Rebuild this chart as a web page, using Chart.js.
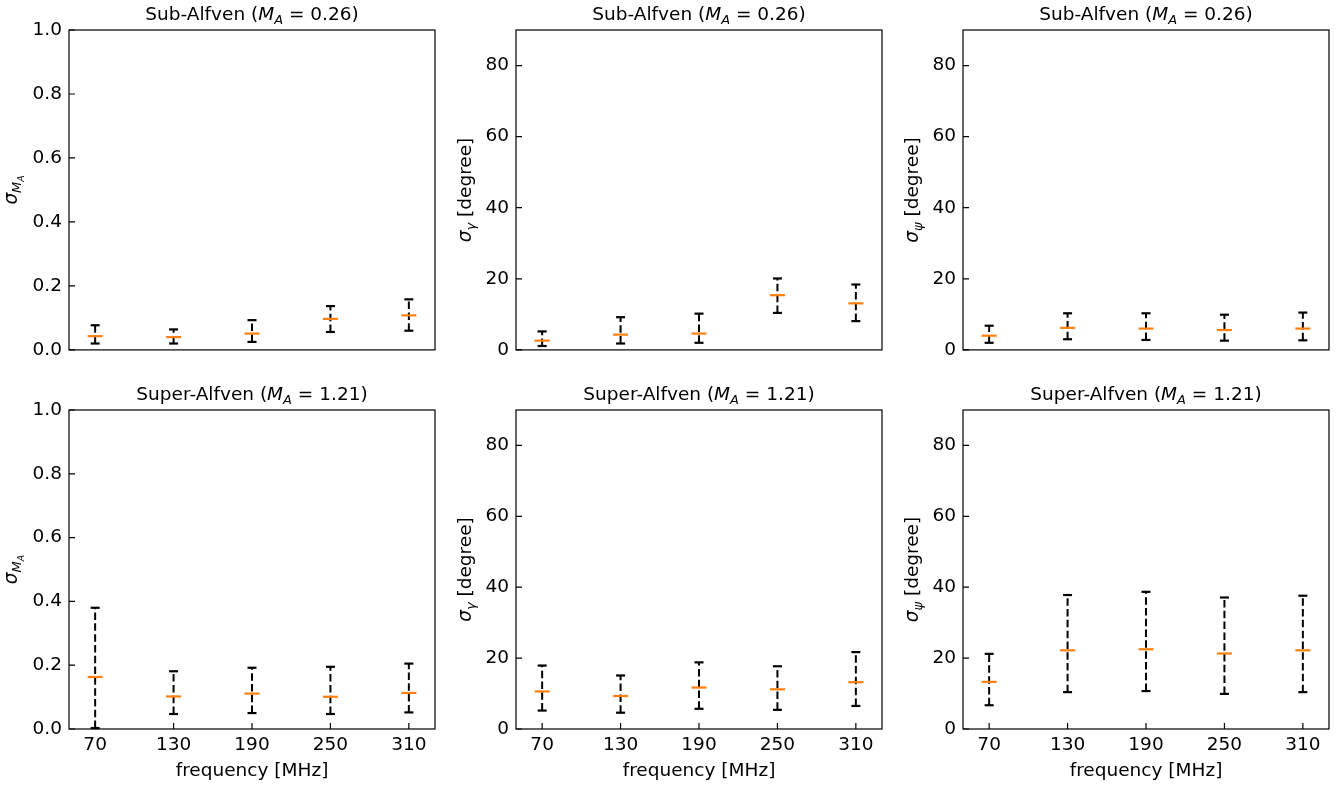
<!DOCTYPE html>
<html>
<head>
<meta charset="utf-8">
<script src="https://cdn.jsdelivr.net/npm/chart.js@4/dist/chart.umd.min.js"></script>
<style>
  body { margin: 0; background: #fff; }
  #fig { position: relative; width: 1343px; height: 789px; overflow: hidden; }
  #fig canvas { position: absolute; }
</style>
</head>
<body>
<div id="fig"></div>
<script>
const freqs = [70, 130, 190, 250, 310];
const maTicks = [0, 0.2, 0.4, 0.6, 0.8, 1.0];
const degTicks = [0, 20, 40, 60, 80];

// sub-Alfven
const maSubLow = [0.020, 0.020, 0.025, 0.056, 0.060];
const maSubMed = [0.043, 0.040, 0.051, 0.097, 0.108];
const maSubHigh = [0.077, 0.064, 0.093, 0.137, 0.158];
const gammaSubLow = [1.1, 1.8, 2.0, 10.4, 8.1];
const gammaSubMed = [2.6, 4.3, 4.6, 15.4, 13.1];
const gammaSubHigh = [5.2, 9.2, 10.2, 20.1, 18.4];
const psiSubLow = [2.0, 3.0, 2.8, 2.6, 2.7];
const psiSubMed = [4.0, 6.2, 6.0, 5.6, 6.0];
const psiSubHigh = [6.8, 10.3, 10.3, 9.9, 10.5];

// super-Alfven
const maSupLow = [0.003, 0.047, 0.050, 0.047, 0.052];
const maSupMed = [0.163, 0.102, 0.111, 0.101, 0.113];
const maSupHigh = [0.380, 0.181, 0.192, 0.195, 0.205];
const gammaSupLow = [5.2, 4.6, 5.7, 5.4, 6.5];
const gammaSupMed = [10.6, 9.3, 11.7, 11.2, 13.2];
const gammaSupHigh = [17.9, 15.1, 18.8, 17.7, 21.7];
const psiSupLow = [6.7, 10.4, 10.7, 9.9, 10.4];
const psiSupMed = [13.3, 22.2, 22.5, 21.3, 22.2];
const psiSupHigh = [21.2, 37.8, 38.7, 37.1, 37.6];

Chart.defaults.font.family = "'DejaVu Sans', sans-serif";
Chart.defaults.font.size = 18.5;
Chart.defaults.color = "#000";

const FONT = "'DejaVu Sans', sans-serif";
const colLeft = [69, 516, 963];
const rowTop = [30, 410];
const plotW = 366;
const plotH = [320, 319];
const yAxisW = 69;
const padTop = 30;
const padRight = 10;

const subTitle = [["Sub-Alfven (", 18.5, false, 0], ["M", 18.5, true, 0], ["A", 13, true, 4], [" = 0.26)", 18.5, false, 0]];
const supTitle = [["Super-Alfven (", 18.5, false, 0], ["M", 18.5, true, 0], ["A", 13, true, 4], [" = 1.21)", 18.5, false, 0]];
const maLabel = [["σ", 18.5, true, 0], ["M", 13, true, 4], ["A", 9.3, true, 7]];
const gammaLabel = [["σ", 18.5, true, 0], ["γ", 13, true, 4], [" [degree]", 18.5, false, 0]];
const psiLabel = [["σ", 18.5, true, 0], ["ψ", 13, true, 4], [" [degree]", 18.5, false, 0]];

const panels = [
  { row: 0, col: 0, low: maSubLow, med: maSubMed, high: maSubHigh, max: 1, yTicks: maTicks, title: subTitle, ylabel: maLabel },
  { row: 0, col: 1, low: gammaSubLow, med: gammaSubMed, high: gammaSubHigh, max: 90, yTicks: degTicks, title: subTitle, ylabel: gammaLabel },
  { row: 0, col: 2, low: psiSubLow, med: psiSubMed, high: psiSubHigh, max: 90, yTicks: degTicks, title: subTitle, ylabel: psiLabel },
  { row: 1, col: 0, low: maSupLow, med: maSupMed, high: maSupHigh, max: 1, yTicks: maTicks, title: supTitle, ylabel: maLabel },
  { row: 1, col: 1, low: gammaSupLow, med: gammaSupMed, high: gammaSupHigh, max: 90, yTicks: degTicks, title: supTitle, ylabel: gammaLabel },
  { row: 1, col: 2, low: psiSupLow, med: psiSupMed, high: psiSupHigh, max: 90, yTicks: degTicks, title: supTitle, ylabel: psiLabel },
];

function drawRich(ctx, parts, x, y) {
  let total = 0;
  for (const [t, size, italic] of parts) {
    ctx.font = (italic ? "italic " : "") + size + "px " + FONT;
    total += ctx.measureText(t).width;
  }
  let cx = x - total / 2;
  ctx.textAlign = "left";
  ctx.textBaseline = "alphabetic";
  for (const [t, size, italic, dy] of parts) {
    ctx.font = (italic ? "italic " : "") + size + "px " + FONT;
    ctx.fillText(t, cx, y + dy);
    cx += ctx.measureText(t).width;
  }
}

const frameAndLabels = {
  id: "frameAndLabels",
  afterDraw(chart, _args, opts) {
    const { ctx, chartArea } = chart;
    const { left, right, top, bottom } = chartArea;
    ctx.save();
    ctx.strokeStyle = "#000";
    ctx.fillStyle = "#000";
    ctx.lineWidth = 1.2;
    ctx.strokeRect(left, top, right - left, bottom - top);

    // inward ticks
    const ys = chart.scales.y;
    ctx.beginPath();
    ys.ticks.forEach((t) => {
      const py = ys.getPixelForValue(t.value);
      ctx.moveTo(left, py);
      ctx.lineTo(left + 6, py);
    });
    if (opts.xTicks) {
      const xs = chart.scales.x;
      freqs.forEach((f) => {
        const px = xs.getPixelForValue(f);
        ctx.moveTo(px, bottom);
        ctx.lineTo(px, bottom - 6);
      });
    }
    ctx.stroke();

    drawRich(ctx, opts.title, (left + right) / 2, top - 10.5);

    ctx.translate(left - opts.labelOffset, (top + bottom) / 2);
    ctx.rotate(-Math.PI / 2);
    drawRich(ctx, opts.ylabel, 0, 0);
    ctx.restore();
  },
};

const fig = document.getElementById("fig");

function makePanel(p, extraH) {
  const bottomRow = p.row === 1;
  const w = yAxisW + plotW + padRight;
  const h = padTop + plotH[p.row] + (bottomRow ? 60 : 0) + extraH;
  const canvas = document.createElement("canvas");
  canvas.width = w;
  canvas.height = h;
  canvas.style.left = colLeft[p.col] - yAxisW + "px";
  canvas.style.top = rowTop[p.row] - padTop + "px";
  fig.appendChild(canvas);

  const whiskers = [];
  const caps = [];
  freqs.forEach((f, i) => {
    whiskers.push({ x: f, y: p.low[i] }, { x: f, y: p.high[i] }, { x: f, y: null });
    caps.push({ x: f, y: p.low[i] }, { x: f, y: p.high[i] });
  });
  const medians = freqs.map((f, i) => ({ x: f, y: p.med[i] }));

  return new Chart(canvas, {
    type: "scatter",
    data: {
      datasets: [
        {
          data: medians,
          pointStyle: "line",
          pointRadius: 7.5,
          pointBorderWidth: 2.2,
          pointBorderColor: "#ff7f0e",
          pointBackgroundColor: "#ff7f0e",
          clip: false,
        },
        {
          data: caps,
          pointStyle: "line",
          pointRadius: 4.5,
          pointBorderWidth: 2.2,
          pointBorderColor: "#000",
          clip: false,
        },
        {
          data: whiskers,
          showLine: true,
          spanGaps: false,
          borderColor: "#000",
          borderWidth: 2,
          borderDash: [7.5, 3.3],
          pointRadius: 0,
          clip: false,
        },
      ],
    },
    options: {
      responsive: false,
      animation: false,
      events: [],
      layout: { padding: { top: padTop, right: padRight, bottom: 0, left: 0 } },
      plugins: {
        legend: { display: false },
        tooltip: { enabled: false },
        frameAndLabels: {
          title: p.title,
          ylabel: p.ylabel,
          labelOffset: p.col === 0 ? 52 : 45.5,
          xTicks: bottomRow,
        },
      },
      scales: {
        x: {
          type: "linear",
          min: 50,
          max: 330,
          display: bottomRow,
          afterBuildTicks: (scale) => {
            scale.ticks = freqs.map((v) => ({ value: v }));
          },
          afterFit: (scale) => {
            scale.height = bottomRow ? 60 : 0;
          },
          grid: { display: false, drawTicks: false },
          border: { display: false },
          ticks: { padding: 5, maxRotation: 0, autoSkip: false, callback: (v) => String(v) },
          title: { display: true, text: "frequency [MHz]", padding: { top: 0, bottom: 7 } },
        },
        y: {
          min: 0,
          max: p.max,
          afterBuildTicks: (scale) => {
            scale.ticks = p.yTicks.map((v) => ({ value: v }));
          },
          afterFit: (scale) => {
            scale.width = yAxisW;
          },
          grid: { display: false, drawTicks: false },
          border: { display: false },
          ticks: {
            padding: 7,
            callback: (v) => (p.max === 1 ? v.toFixed(1) : String(v)),
          },
        },
      },
    },
    plugins: [frameAndLabels],
  });
}

panels.forEach((p) => {
  let chart = makePanel(p, 0);
  const got = chart.chartArea.bottom - chart.chartArea.top;
  const diff = plotH[p.row] - got;
  if (Math.abs(diff) > 0.5) {
    const canvas = chart.canvas;
    chart.destroy();
    canvas.remove();
    chart = makePanel(p, diff);
  }
});
</script>
</body>
</html>
